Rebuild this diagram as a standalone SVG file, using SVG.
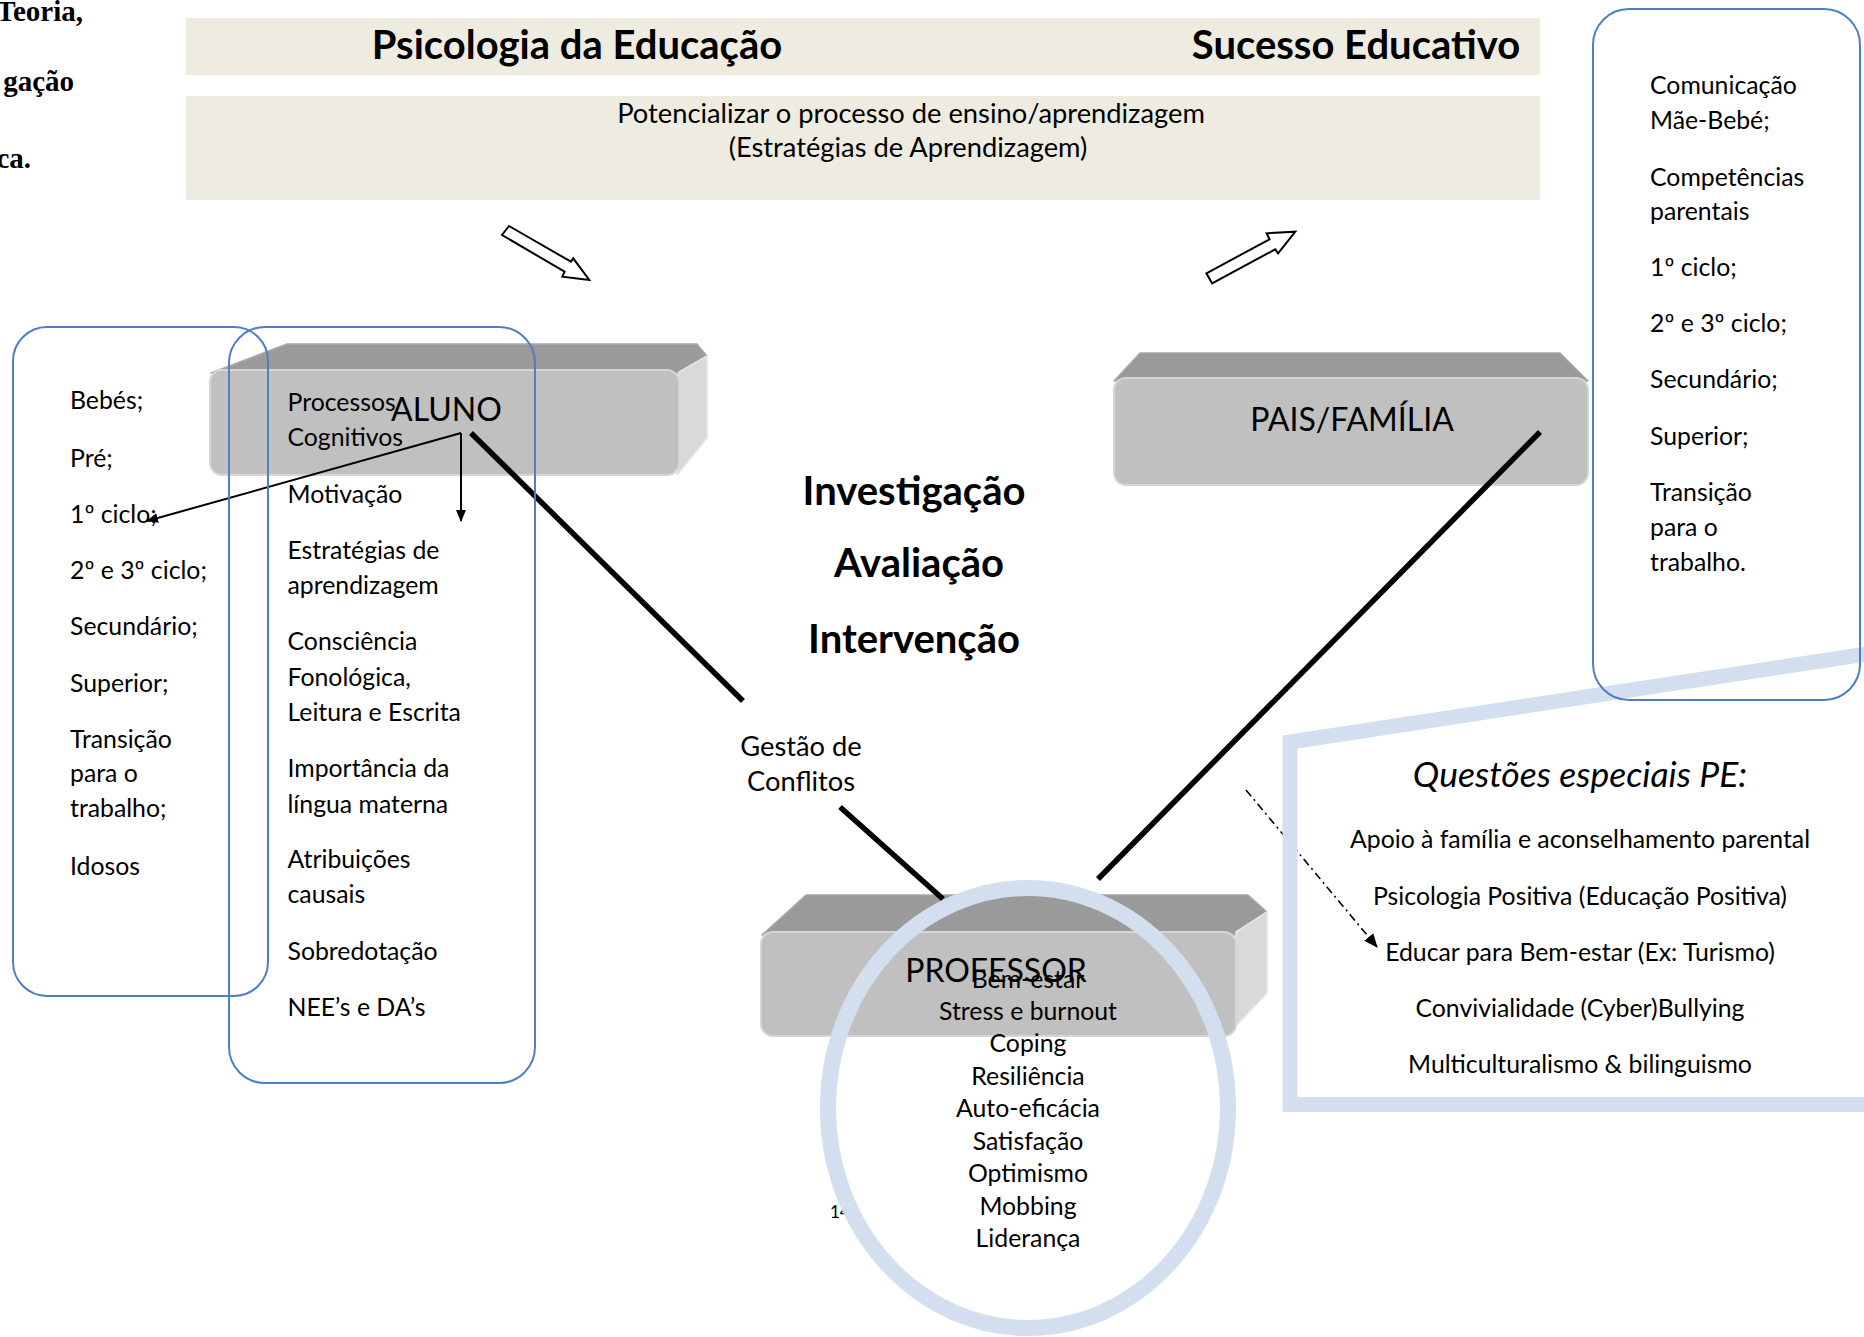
<svg xmlns="http://www.w3.org/2000/svg" width="1864" height="1337" viewBox="0 0 1864 1337">
<defs>
<style>
text{font-family:Lato,"Liberation Sans",sans-serif;fill:#000}
.b{font-size:24.8px}
.m{font-size:27.3px}
.c{text-anchor:middle}
.lbl{font-size:32px}
.big{font-size:40px;font-weight:bold;text-anchor:middle}
.ttl{font-size:40px;font-weight:bold;text-anchor:middle}
.serif{font-family:"Liberation Serif",serif;font-weight:bold;font-size:29px;text-anchor:end}
.banner{fill:#EEECE1}
.front{fill:#C0C0C0;stroke:#D6D6D6;stroke-width:2}
.topf{fill:#9A9A9A;stroke:#A8A8A8;stroke-width:1.5;stroke-linejoin:round}
.side{fill:#D9D9D9;stroke:#E4E4E4;stroke-width:1.5;stroke-linejoin:round}
.blue{fill:none;stroke:#4F7EC2;stroke-width:2}
.ring{fill:none;stroke:#D3DEEE}
.thick{stroke:#000;stroke-width:5.5;fill:none}
.thin{stroke:#000;stroke-width:2;fill:none}
.blk{fill:#fff;stroke:#000;stroke-width:2;stroke-linejoin:miter}
</style>
<marker id="ah" viewBox="0 0 12 10" refX="11" refY="5" markerWidth="12" markerHeight="10" markerUnits="userSpaceOnUse" orient="auto">
<path d="M0,0 L12,5 L0,10 Z" fill="#000"/>
</marker>
<marker id="ah2" viewBox="0 0 14 12" refX="13" refY="6" markerWidth="14" markerHeight="12" markerUnits="userSpaceOnUse" orient="auto">
<path d="M0,0 L14,6 L0,12 Z" fill="#000"/>
</marker>
</defs>

<g id="cut-text">
<text class="serif" x="83" y="21">Teoria,</text>
<text class="serif" x="74" y="91">gação</text>
<text class="serif" x="31" y="168">ca.</text>
</g>

<g id="banner-top">
<rect class="banner" x="186" y="18" width="1354" height="57"/>
<text class="ttl" x="577" y="59">Psicologia da Educação</text>
<text class="ttl" x="1356" y="59">Sucesso Educativo</text>
</g>
<g id="banner-sub">
<rect class="banner" x="186" y="96" width="1354" height="104"/>
<text class="m c" x="911" y="123">Potencializar o processo de ensino/aprendizagem</text>
<text class="m c" x="908" y="157">(Estratégias de Aprendizagem)</text>
</g>

<g id="block-arrows">
<polygon class="blk" points="509,226 571,261.7 573.2,258.3 589.3,280 562.3,276.7 564.6,271.7 502,235"/>
<polygon class="blk" points="1206.4,273.3 1269.5,239.3 1266.6,233.3 1295.3,231.7 1278.1,253.3 1275.2,249.3 1212.1,283.3"/>
</g>

<g id="aluno">
<polygon class="topf" points="211,373 287,344 697,344 707,356 680,373"/>
<polygon class="side" points="679,372 707,356 707,438 677,475"/>
<rect class="front" x="210" y="370" width="469" height="105" rx="12"/>
</g>

<g id="pais">
<polygon class="topf" points="1114,381 1140,353 1560,353 1588,381"/>
<rect class="front" x="1114" y="378" width="474" height="107" rx="12"/>
<text class="lbl c" x="1352" y="431">PAIS/FAMÍLIA</text>
</g>

<g id="professor">
<polygon class="topf" points="762,935 806,895 1248,895 1267,912 1236,935"/>
<polygon class="side" points="1236,932 1267,912 1267,993 1232,1030"/>
<rect class="front" x="761" y="932" width="475" height="104" rx="12"/>
<text class="lbl c" x="996" y="982">PROFESSOR</text>
</g>

<g id="connectors">
<line class="thick" x1="471" y1="433" x2="743" y2="701"/>
<line class="thick" x1="840" y1="807" x2="943" y2="899"/>
<line class="thick" x1="1540" y1="432" x2="1098" y2="879"/>
<line class="thin" x1="461" y1="433" x2="147" y2="521" marker-end="url(#ah)"/>
<line class="thin" x1="461" y1="433" x2="461" y2="521" marker-end="url(#ah)"/>
<line x1="1246" y1="790" x2="1377" y2="947" stroke="#000" stroke-width="1.6" stroke-dasharray="8 4 2 4" marker-end="url(#ah2)"/>
</g>

<g id="aluno-label">
<text class="lbl" x="391" y="421">ALUNO</text>
</g>

<g id="idades">
<rect class="blue" x="13" y="327" width="255" height="669" rx="34"/>
<text class="b" x="70" y="409">Bebés;</text>
<text class="b" x="70" y="467">Pré;</text>
<text class="b" x="70" y="523">1º ciclo;</text>
<text class="b" x="70" y="579">2º e 3º ciclo;</text>
<text class="b" x="70" y="635">Secundário;</text>
<text class="b" x="70" y="692">Superior;</text>
<text class="b" x="70" y="748">Transição</text>
<text class="b" x="70" y="782">para o</text>
<text class="b" x="70" y="817">trabalho;</text>
<text class="b" x="70" y="875">Idosos</text>
</g>

<g id="temas-aluno">
<rect class="blue" x="229" y="327" width="306" height="756" rx="36"/>
<text class="b" x="287.5" y="411">Processos</text>
<text class="b" x="287.5" y="446">Cognitivos</text>
<text class="b" x="287.5" y="503">Motivação</text>
<text class="b" x="287.5" y="559">Estratégias de</text>
<text class="b" x="287.5" y="594">aprendizagem</text>
<text class="b" x="287.5" y="650">Consciência</text>
<text class="b" x="287.5" y="686">Fonológica,</text>
<text class="b" x="287.5" y="721">Leitura e Escrita</text>
<text class="b" x="287.5" y="777">Importância da</text>
<text class="b" x="287.5" y="813">língua materna</text>
<text class="b" x="287.5" y="868">Atribuições</text>
<text class="b" x="287.5" y="903">causais</text>
<text class="b" x="287.5" y="960">Sobredotação</text>
<text class="b" x="287.5" y="1016">NEE’s e DA’s</text>
</g>

<g id="centro">
<text class="big" x="914" y="505">Investigação</text>
<text class="big" x="919" y="577">Avaliação</text>
<text class="big" x="914" y="653">Intervenção</text>
</g>

<g id="gestao">
<text class="m c" x="801" y="756">Gestão de</text>
<text class="m c" x="801" y="791">Conflitos</text>
</g>

<g id="questoes">
<path d="M1900,648.9 L1290,742 L1290,1104.5 L1900,1104.5" fill="none" stroke="#D3DEEE" stroke-width="15" stroke-linejoin="miter"/>
<text class="c" x="1580" y="787" style="font-size:35.5px;font-style:italic">Questões especiais PE:</text>
<text class="b c" x="1580" y="848">Apoio à família e aconselhamento parental</text>
<text class="b c" x="1580" y="905">Psicologia Positiva (Educação Positiva)</text>
<text class="b c" x="1580" y="961">Educar para Bem-estar (Ex: Turismo)</text>
<text class="b c" x="1580" y="1017">Convivialidade (Cyber)Bullying</text>
<text class="b c" x="1580" y="1073">Multiculturalismo &amp; bilinguismo</text>
</g>

<g id="familia-temas">
<rect class="blue" x="1593" y="9" width="267" height="691" rx="36"/>
<text class="b" x="1650" y="94">Comunicação</text>
<text class="b" x="1650" y="129">Mãe-Bebé;</text>
<text class="b" x="1650" y="186">Competências</text>
<text class="b" x="1650" y="220">parentais</text>
<text class="b" x="1650" y="276">1º ciclo;</text>
<text class="b" x="1650" y="332">2º e 3º ciclo;</text>
<text class="b" x="1650" y="388">Secundário;</text>
<text class="b" x="1650" y="445">Superior;</text>
<text class="b" x="1650" y="501">Transição</text>
<text class="b" x="1650" y="536">para o</text>
<text class="b" x="1650" y="571">trabalho.</text>
</g>

<g id="professor-temas">
<text x="830" y="1218" style="font-size:17px">14</text>
<ellipse class="ring" cx="1028" cy="1108" rx="200" ry="220" stroke-width="16"/>
<text class="b c" x="1028" y="988">Bem-estar</text>
<text class="b c" x="1028" y="1020">Stress e burnout</text>
<text class="b c" x="1028" y="1052">Coping</text>
<text class="b c" x="1028" y="1085">Resiliência</text>
<text class="b c" x="1028" y="1117">Auto-eficácia</text>
<text class="b c" x="1028" y="1150">Satisfação</text>
<text class="b c" x="1028" y="1182">Optimismo</text>
<text class="b c" x="1028" y="1215">Mobbing</text>
<text class="b c" x="1028" y="1247">Liderança</text>
</g>
</svg>
